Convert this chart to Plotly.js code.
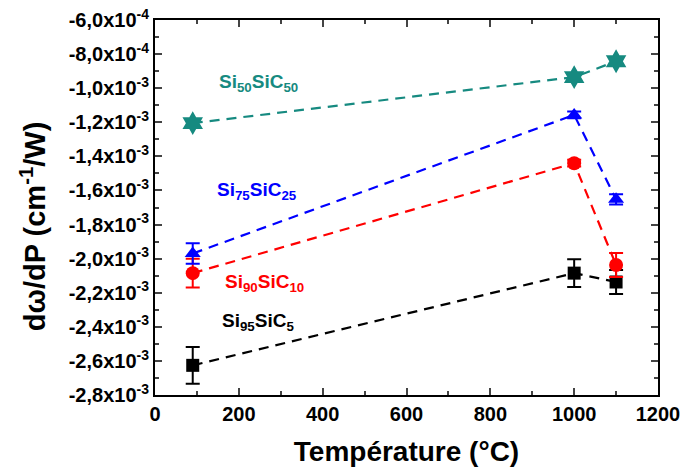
<!DOCTYPE html>
<html><head><meta charset="utf-8">
<script src="https://cdn.plot.ly/plotly-3.0.1.min.js"></script>
<style>body{margin:0;background:#fff}#c{width:683px;height:471px}</style>
</head><body><div id="c"></div>
<script>
const temps = [90, 1000, 1100];
const si50 = [-1.205e-3, -0.935e-3, -0.842e-3];
const si50Err = [0.02e-3, 0.02e-3, 0.02e-3];
const si75 = [-1.97e-3, -1.157e-3, -1.652e-3];
const si75Err = [0.06e-3, 0.02e-3, 0.03e-3];
const si90 = [-2.085e-3, -1.44e-3, -2.037e-3];
const si90Err = [0.085e-3, 0.02e-3, 0.07e-3];
const si95 = [-2.626e-3, -2.085e-3, -2.137e-3];
const si95Err = [0.108e-3, 0.082e-3, 0.07e-3];
const yTickVals = [-2.8e-3,-2.6e-3,-2.4e-3,-2.2e-3,-2.0e-3,-1.8e-3,-1.6e-3,-1.4e-3,-1.2e-3,-1.0e-3,-8e-4,-6e-4];
const yTickText = ['-2,8x10<sup>-3</sup>','-2,6x10<sup>-3</sup>','-2,4x10<sup>-3</sup>','-2,2x10<sup>-3</sup>','-2,0x10<sup>-3</sup>','-1,8x10<sup>-3</sup>','-1,6x10<sup>-3</sup>','-1,4x10<sup>-3</sup>','-1,2x10<sup>-3</sup>','-1,0x10<sup>-3</sup>','-8,0x10<sup>-4</sup>','-6,0x10<sup>-4</sup>'];
const labels = ['Si<sub>50</sub>SiC<sub>50</sub>','Si<sub>75</sub>SiC<sub>25</sub>','Si<sub>90</sub>SiC<sub>10</sub>','Si<sub>95</sub>SiC<sub>5</sub>'];
const xTitle = 'Température (°C)';
const yTitle = 'dω/dP (cm<sup>-1</sup>/W)';

const teal = '#168a80', blue = '#0000ff', red = '#ff0000', black = '#000000';
function tr(y, err, color, symbol, size){
  return {x: temps, y: y, type:'scatter', mode:'lines+markers',
    line:{color:color, dash:'10px,7px', width:2.2},
    marker:{color:color, symbol:symbol, size:size},
    error_y:{type:'data', array:err, visible:true, color:color, thickness:2, width:7},
    showlegend:false};
}
const data = [
  tr(si95, si95Err, black, 'square', 13),
  tr(si90, si90Err, red, 'circle', 14),
  tr(si75, si75Err, blue, 'triangle-up', 14),
  tr(si50, si50Err, teal, 'hexagram', 18)
];
const fnt = {family:'Liberation Sans, Arial, sans-serif', color:'#000'};
const layout = {
  width:683, height:471,
  margin:{l:155, r:25, t:20, b:76},
  paper_bgcolor:'#fff', plot_bgcolor:'#fff',
  xaxis:{range:[0,1200], tickvals:[0,200,400,600,800,1000,1200], ticks:'inside', ticklen:7, tickwidth:2,
    minor:{dtick:100, ticks:'inside', ticklen:4, tickwidth:2},
    showline:true, linewidth:2, linecolor:'#000', mirror:'ticks', showgrid:false, zeroline:false,
    tickfont:Object.assign({size:20, weight:'bold'}, fnt),
    title:{text:'<b>'+xTitle+'</b>', font:Object.assign({size:28}, fnt), standoff:17}},
  yaxis:{range:[-2.8e-3,-6e-4], tickvals:yTickVals, ticktext:yTickText, ticks:'inside', ticklen:7, tickwidth:2,
    minor:{tickvals:[-2.7e-3,-2.5e-3,-2.3e-3,-2.1e-3,-1.9e-3,-1.7e-3,-1.5e-3,-1.3e-3,-1.1e-3,-9e-4,-7e-4], ticks:'inside', ticklen:4, tickwidth:2},
    showline:true, linewidth:2, linecolor:'#000', mirror:'ticks', showgrid:false, zeroline:false,
    tickfont:Object.assign({size:20, weight:'bold'}, fnt)},
  annotations:[
    {xref:'paper', yref:'paper', x:-0.2425, y:0.45, xanchor:'center', yanchor:'middle', textangle:-90,
     text:'<b>'+yTitle+'</b>', showarrow:false, font:Object.assign({size:29}, fnt)},
    {x:248, y:-0.97e-3, text:'<b>'+labels[0]+'</b>', showarrow:false, font:Object.assign({size:19}, fnt, {color:teal})},
    {x:243, y:-1.603e-3, text:'<b>'+labels[1]+'</b>', showarrow:false, font:Object.assign({size:19}, fnt, {color:blue})},
    {x:262, y:-2.143e-3, text:'<b>'+labels[2]+'</b>', showarrow:false, font:Object.assign({size:19}, fnt, {color:red})},
    {x:246, y:-2.37e-3, text:'<b>'+labels[3]+'</b>', showarrow:false, font:Object.assign({size:19}, fnt, {color:black})}
  ]
};
Plotly.newPlot('c', data, layout, {displayModeBar:false, staticPlot:true});
</script></body></html>
